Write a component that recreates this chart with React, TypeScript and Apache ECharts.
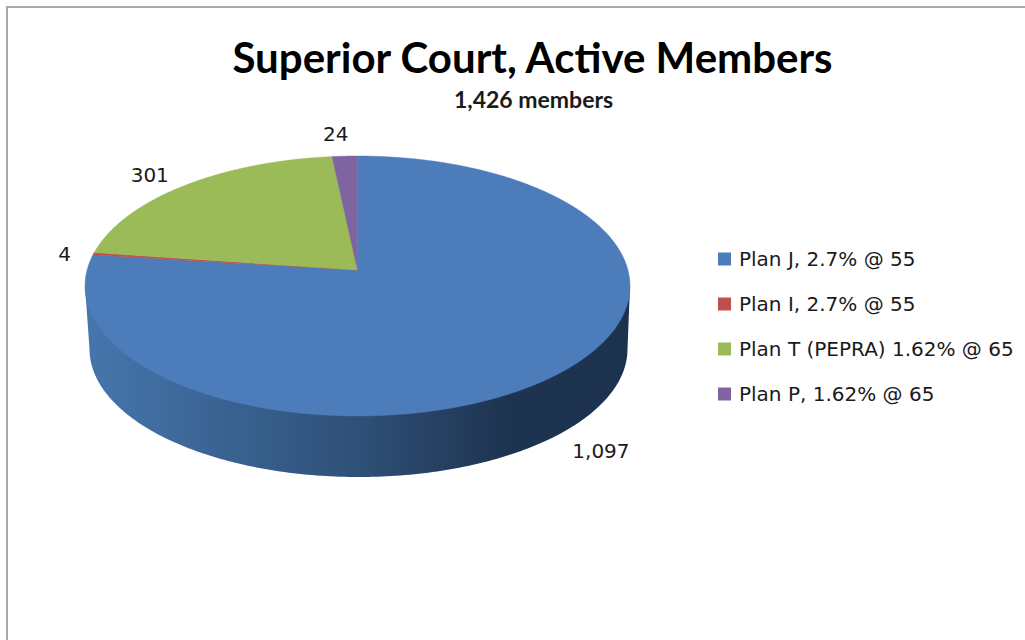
import React, { useEffect, useRef } from "react";
import * as echarts from "echarts";

const planNames = ["Plan J, 2.7% @ 55", "Plan I, 2.7% @ 55", "Plan T (PEPRA) 1.62% @ 65", "Plan P, 1.62% @ 65"];
const planValues = [1097, 4, 301, 24];
const planColors = ["#4c7dba", "#c0504d", "#9bbb59", "#8064a2"];
const labelOffsets = [[46, 75], [-29, 0], [-35, -10], [-9, -22]];
const chartTitle = "Superior Court, Active Members";
const chartSubtitle = "1,426 members";

const total = planValues.reduce((a, b) => a + b, 0);
const apexX = 357.5;
const apexY = 270;
const faceA = 270.4;
const faceB = 128;
const persp = 0.123;

function rim(deg: number): number[] {
  const t = (deg * Math.PI) / 180;
  const X = Math.sin(t);
  const Y = Math.cos(t);
  const w = 1 + persp * Y;
  return [apexX + (faceA * X) / w, apexY - (faceB * Y) / w];
}

function sliceRange(i: number): number[] {
  const before = planValues.slice(0, i).reduce((a, b) => a + b, 0);
  return [(before / total) * 360, ((before + planValues[i]) / total) * 360];
}

function sidePoints(): number[][] {
  const pts: number[][] = [[85, 286]];
  for (let d = 270; d >= 90; d -= 1) {
    const t = (d * Math.PI) / 180;
    pts.push([358.5 + 269 * Math.sin(t), 349 - 128 * Math.cos(t)]);
  }
  pts.push([630, 286]);
  return pts;
}

const renderSlice = (seriesIndex: number) => (_params: any, api: any) => {
  const value = api.value(0);
  const [a, b] = sliceRange(seriesIndex);
  const pts: number[][] = [[apexX, apexY]];
  const steps = Math.max(2, Math.ceil((b - a) / 0.5));
  for (let k = 0; k <= steps; k++) pts.push(rim(a + ((b - a) * k) / steps));
  const color = planColors[seriesIndex];
  const anchor = rim((a + b) / 2);
  const off = labelOffsets[seriesIndex];
  const children: any[] = [];
  if (seriesIndex === 0) {
    children.push({
      type: "polygon",
      shape: { points: sidePoints() },
      style: {
        fill: {
          type: "linear", x: 0, y: 0, x2: 1, y2: 0,
          colorStops: [
            { offset: 0, color: "#4676ad" },
            { offset: 0.5, color: "#2f5078" },
            { offset: 0.78, color: "#1e3350" },
            { offset: 1, color: "#1d324e" },
          ],
        },
      },
    });
  }
  children.push({
    type: "polygon",
    shape: { points: pts },
    style: { fill: color, stroke: color, lineWidth: 0.5 },
  });
  children.push({
    type: "text",
    style: {
      text: value.toLocaleString("en-US"),
      x: anchor[0] + off[0],
      y: anchor[1] + off[1],
      align: "center",
      verticalAlign: "middle",
      fill: "#1a1a1a",
      font: '20px "DejaVu Sans"',
    },
  });
  return { type: "group", children };
};

export default function App() {
  const ref = useRef<HTMLDivElement>(null);
  useEffect(() => {
    const chart = echarts.init(ref.current!, null, { renderer: "svg" });
    chart.setOption({
      animation: false,
      backgroundColor: "#ffffff",
      title: [
        {
          text: chartTitle,
          left: 527.5,
          top: 31,
          textAlign: "center",
          textStyle: { fontFamily: "Lato", fontWeight: "bold", fontSize: 42, color: "#000000" },
        },
        {
          text: chartSubtitle,
          left: 528.5,
          top: 82,
          textAlign: "center",
          textStyle: { fontFamily: "Lato", fontWeight: "bold", fontSize: 23, color: "#1a1a1a" },
        },
      ],
      legend: {
        orient: "vertical",
        left: 718,
        top: 249,
        itemWidth: 13,
        itemHeight: 13,
        itemGap: 25,
        icon: "rect",
        data: planNames,
        selectedMode: false,
        textStyle: { fontFamily: "DejaVu Sans", fontSize: 20, color: "#1a1a1a", padding: [0, 0, 0, 3] },
        padding: 0,
      },
      graphic: [
        {
          type: "polyline",
          shape: { points: [[7, 640], [7, 7], [1025, 7]] },
          style: { stroke: "#a8a8a8", lineWidth: 2, fill: "none" },
          silent: true,
        },
      ],
      series: planNames.map((name, i) => ({
        type: "custom",
        name,
        coordinateSystem: "none",
        itemStyle: { color: planColors[i] },
        data: [[planValues[i]]],
        renderItem: renderSlice(i),
      })),
    });
    return () => chart.dispose();
  }, []);
  return <div ref={ref} style={{ position: "absolute", left: 0, top: 0, width: 1025, height: 640 }} />;
}
